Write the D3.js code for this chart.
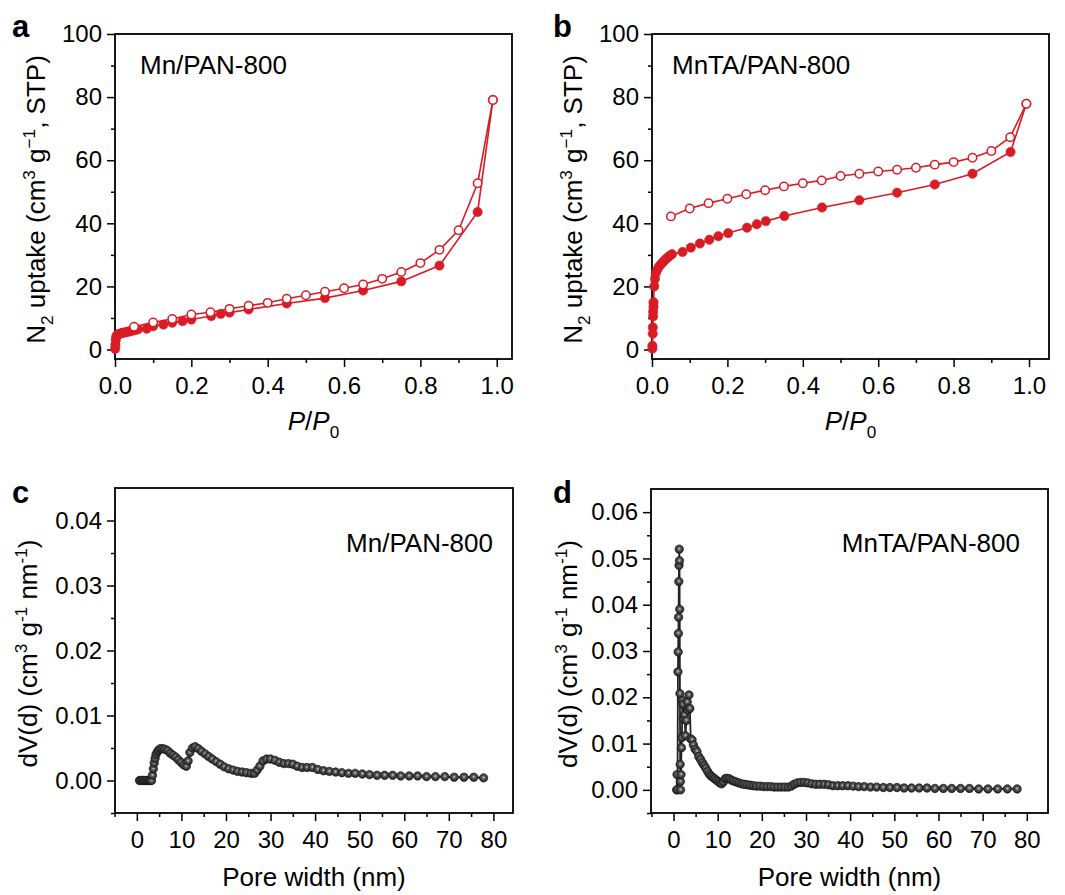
<!DOCTYPE html>
<html>
<head>
<meta charset="utf-8">
<script src="https://cdn.jsdelivr.net/npm/d3@7"></script>
<style>
  body { margin: 0; background: #fff; }
  svg { display: block; font-family: "Liberation Sans", Arial, sans-serif; }
  .tick text { font-family: "Liberation Sans", Arial, sans-serif; font-size: 24px; fill: #000; }
  .tick line { stroke: #000; stroke-width: 1.5; }
  text { white-space: pre; }
</style>
</head>
<body>
<svg id="fig" width="1065" height="895"></svg>
<script>
// ---- isotherm data (P/P0, cm3/g STP) ----
const aAdsP = [0.0005,0.001,0.002,0.003,0.005,0.008,0.012,0.016,0.02,0.025,0.03,0.035,0.04,0.045,0.05,0.055,0.06,0.083,0.1,0.127,0.15,0.177,0.2,0.252,0.277,0.30,0.35,0.45,0.55,0.65,0.75,0.85,0.95,0.99];
const aAdsV = [0.2,1.5,3.0,4.0,4.5,4.8,5.0,5.1,5.3,5.4,5.5,5.7,5.8,6.0,6.1,6.3,6.4,6.6,7.4,7.9,8.5,9.0,9.5,10.6,11.3,11.7,12.7,14.6,16.3,18.7,21.6,26.6,43.6,79.1];
const aDesP = [0.99,0.95,0.90,0.85,0.80,0.75,0.70,0.65,0.60,0.55,0.50,0.45,0.40,0.35,0.30,0.25,0.20,0.15,0.10,0.05];
const aDesV = [79.1,52.7,37.8,31.6,27.4,24.6,22.4,20.6,19.4,18.3,17.2,16.1,14.8,13.9,12.9,11.8,11.1,9.7,8.6,7.2];

const bAdsP = [0.001,0.001,0.002,0.002,0.003,0.003,0.004,0.004,0.006,0.008,0.01,0.014,0.018,0.023,0.028,0.033,0.038,0.043,0.048,0.053,0.081,0.103,0.127,0.152,0.176,0.202,0.252,0.278,0.302,0.351,0.451,0.55,0.65,0.75,0.85,0.951,0.993];
const bAdsV = [0.3,1.2,5.0,7.0,10.5,12.0,13.5,15.0,20.0,22.4,24.2,25.3,26.2,26.9,27.6,28.2,28.8,29.3,29.8,30.2,30.9,32.3,33.6,34.8,35.9,36.9,38.6,39.7,40.7,42.3,45.0,47.3,49.7,52.3,55.7,62.6,77.9];
const bDesP = [0.993,0.95,0.90,0.85,0.80,0.75,0.70,0.65,0.60,0.55,0.50,0.45,0.40,0.35,0.30,0.25,0.20,0.15,0.10,0.05];
const bDesV = [77.9,67.3,62.9,60.8,59.4,58.6,57.6,57.0,56.4,55.7,55.0,53.6,52.7,51.7,50.5,49.2,47.8,46.4,44.7,42.2];

// ---- pore size distributions (nm, cm3/g/nm) ----
const cW = [0.6,0.9,1.2,1.5,1.8,2.1,2.4,2.7,3.0,3.3,3.5,3.7,3.9,4.1,4.3,4.6,4.9,5.3,5.8,6.3,6.9,7.5,8.1,8.7,9.3,9.9,10.5,11.1,11.5,11.9,12.5,13.1,13.8,14.5,15.3,16.1,16.9,17.8,18.7,19.6,20.6,21.6,22.6,23.6,24.6,25.6,26.4,27.0,27.6,28.3,29.1,30.0,31.0,32.0,33.0,34.0,35.0,36.0,37.1,38.2,39.4,40.6,41.9,43.2,44.6,46.0,47.5,49.0,50.6,52.2,53.9,55.6,57.4,59.2,61.1,63.0,65.0,67.0,69.1,71.2,73.4,75.6,77.8];
const cV = [0,0,0,0,0,0,0,0,0,0,
  0.0008,0.0018,0.0027,0.0034,0.0040,0.0044,0.0047,0.0049,0.0049,0.0048,
  0.0046,0.0042,0.0039,0.0036,0.0032,0.0028,0.0024,0.0022,0.0030,0.0043,
  0.0050,0.0052,0.0049,0.0045,0.0041,0.0037,0.0033,0.0029,0.0025,0.0021,
  0.0018,0.0016,0.0014,0.0013,0.0012,0.0011,0.0011,0.0016,0.0022,0.0030,
  0.0033,0.0033,0.0031,0.0028,0.0026,0.0026,0.0025,0.0022,0.0020,0.0020,
  0.0020,0.0017,0.0015,0.0014,0.0013,0.0012,0.0011,0.0011,0.0010,0.0009,
  0.0008,0.0008,0.0008,0.0007,0.0007,0.0007,0.0006,0.0006,0.0006,0.0005,
  0.0005,0.0005,0.0004];

const dW = [0.70,0.80,0.90,1.00,1.05,1.10,1.15,1.20,1.25,1.30,1.35,1.40,1.45,1.50,1.55,1.60,1.70,1.80,1.90,2.00,2.15,2.30,2.50,2.70,2.90,3.10,3.30,3.50,3.70,3.90,4.20,4.50,4.90,5.30,5.70,6.10,6.50,6.90,7.30,7.70,8.10,8.50,8.90,9.30,9.70,10.1,10.5,10.9,11.3,11.7,12.1,12.6,13.1,13.6,14.2,14.8,15.4,16.0,16.7,17.4,18.1,18.8,19.6,20.4,21.2,22.0,22.8,23.6,24.4,25.2,26.0,26.7,27.3,28.0,28.8,29.6,30.4,31.3,32.2,33.1,34.1,35.1,36.1,37.2,38.3,39.5,40.7,41.9,43.2,44.6,46.0,47.5,49.0,50.6,52.2,53.9,55.6,57.4,59.2,61.1,63.0,65.0,67.0,69.1,71.2,73.4,75.6,77.8];
const dV = [0.0000,0.0033,0.0000,0.0255,0.0298,0.0338,0.0373,0.0450,0.0485,0.0520,
  0.0495,0.0390,0.0208,0.0055,0.0018,0.0000,0.0033,0.0091,0.0113,0.0193,
  0.0185,0.0153,0.0162,0.0117,0.0150,0.0190,0.0172,0.0205,0.0176,0.0110,
  0.0108,0.0097,0.0088,0.0083,0.0072,0.0066,0.0059,0.0053,0.0047,0.0040,
  0.0034,0.0030,0.0027,0.0024,0.0021,0.0018,0.0015,0.0013,0.0017,0.0024,
  0.0025,0.0024,0.0021,0.0019,0.0017,0.0015,0.0013,0.0012,0.0011,0.0010,
  0.0009,0.0008,0.0008,0.0007,0.0007,0.0007,0.0006,0.0006,0.0006,0.0006,
  0.0006,0.0008,0.0012,0.0015,0.0016,0.0016,0.0015,0.0013,0.0012,0.0012,
  0.0012,0.0011,0.0009,0.0009,0.0009,0.0009,0.0008,0.0007,0.0007,0.0006,
  0.0006,0.0005,0.0005,0.0005,0.0004,0.0004,0.0004,0.0004,0.0003,0.0003,
  0.0003,0.0003,0.0003,0.0002,0.0002,0.0002,0.0002,0.0002];

// ---- ticks ----
const isoXMajor = [0, 0.2, 0.4, 0.6, 0.8, 1.0];
const isoXMinor = [0.1, 0.3, 0.5, 0.7, 0.9];
const isoYMajor = [0, 20, 40, 60, 80, 100];
const isoYMinor = [10, 30, 50, 70, 90];
const psdXMajor = [0, 10, 20, 30, 40, 50, 60, 70, 80];
const psdXMinor = [-5, 5, 15, 25, 35, 45, 55, 65, 75];
const cYMajor = [0, 0.01, 0.02, 0.03, 0.04];
const cYMinor = [-0.005, 0.005, 0.015, 0.025, 0.035];
const dYMajor = [0, 0.01, 0.02, 0.03, 0.04, 0.05, 0.06];
const dYMinor = [-0.005, 0.005, 0.015, 0.025, 0.035, 0.045, 0.055];

const RED = "#d81c26";
const svg = d3.select("#fig");

// shaded ball for the PSD markers
const grad = svg.append("defs").append("radialGradient")
  .attr("id", "ball").attr("cx", "50%").attr("cy", "45%").attr("r", "55%");
grad.append("stop").attr("offset", "0%").attr("stop-color", "#d0d0d0");
grad.append("stop").attr("offset", "35%").attr("stop-color", "#5c5c5c");
grad.append("stop").attr("offset", "100%").attr("stop-color", "#1c1c1c");

// text with sub/superscripts: parts = [[text, "sub"|"sup"|null, italic]]
function rich(sel, parts, size) {
  let off = 0;
  parts.forEach(([t, kind, ital]) => {
    const target = kind === "sub" ? 0.3 * size : kind === "sup" ? -0.38 * size : 0;
    sel.append("tspan")
      .attr("dy", target - off)
      .attr("font-size", kind ? size * 0.66 : size)
      .attr("font-style", ital ? "italic" : null)
      .text(t);
    off = target;
  });
}

const isoYTitle = [["N"], ["2", "sub"], [" uptake (cm"], ["3", "sup"], [" g"], ["\u22121", "sup"], [", STP)"]];
const psdYTitle = [["dV(d) (cm"], ["3", "sup"], [" g"], ["-1", "sup"], [" nm"], ["-1", "sup"], [")"]];
const isoXTitle = [["P", null, true], ["/"], ["P", null, true], ["0", "sub"]];
const psdXTitle = [["Pore width (nm)"]];

const panels = [
  { letter: "a", box: { l: 115, t: 34, r: 512, b: 359 }, xd: [0, 1.04], yd: [-3, 100],
    xMaj: isoXMajor, xMin: isoXMinor, yMaj: isoYMajor, yMin: isoYMinor,
    xFmt: d3.format(".1f"), yFmt: d3.format("d"),
    xTitle: isoXTitle, yTitle: isoYTitle, yTitleX: 45, xTitleY: 430,
    label: "Mn/PAN-800", labelX: 140, labelY: 74, labelAnchor: "start",
    iso: [[aAdsP, aAdsV], [aDesP, aDesV]] },
  { letter: "b", box: { l: 652, t: 34, r: 1049, b: 359 }, xd: [0, 1.053], yd: [-3, 100],
    xMaj: isoXMajor, xMin: isoXMinor, yMaj: isoYMajor, yMin: isoYMinor,
    xFmt: d3.format(".1f"), yFmt: d3.format("d"),
    xTitle: isoXTitle, yTitle: isoYTitle, yTitleX: 582, xTitleY: 430,
    label: "MnTA/PAN-800", labelX: 672, labelY: 74, labelAnchor: "start",
    iso: [[bAdsP, bAdsV], [bDesP, bDesV]] },
  { letter: "c", box: { l: 115, t: 488, r: 513, b: 813 }, xd: [-4.9, 84.4], yd: [-0.005, 0.045],
    xMaj: psdXMajor, xMin: psdXMinor, yMaj: cYMajor, yMin: cYMinor,
    xFmt: d3.format("d"), yFmt: d3.format(".2f"),
    xTitle: psdXTitle, yTitle: psdYTitle, yTitleX: 37, xTitleY: 886,
    label: "Mn/PAN-800", labelX: 493, labelY: 552, labelAnchor: "end",
    psd: [cW, cV] },
  { letter: "d", box: { l: 651, t: 489, r: 1048, b: 813 }, xd: [-5.1, 84.8], yd: [-0.005, 0.065],
    xMaj: psdXMajor, xMin: psdXMinor, yMaj: dYMajor, yMin: dYMinor,
    xFmt: d3.format("d"), yFmt: d3.format(".2f"),
    xTitle: psdXTitle, yTitle: psdYTitle, yTitleX: 577, xTitleY: 886,
    label: "MnTA/PAN-800", labelX: 1020, labelY: 552, labelAnchor: "end",
    psd: [dW, dV] }
];

function drawPanel(p) {
  const g = svg.append("g");
  const { l, t, r, b } = p.box;
  const x = d3.scaleLinear().domain(p.xd).range([l, r]);
  const y = d3.scaleLinear().domain(p.yd).range([b, t]);
  const noDomain = s => s.select(".domain").remove();

  g.append("g").attr("transform", `translate(0,${b})`)
    .call(d3.axisBottom(x).tickValues(p.xMin).tickSize(4).tickFormat("")).call(noDomain);
  g.append("g").attr("transform", `translate(0,${b})`)
    .call(d3.axisBottom(x).tickValues(p.xMaj).tickSize(8).tickPadding(10).tickFormat(p.xFmt)).call(noDomain);
  g.append("g").attr("transform", `translate(${l},0)`)
    .call(d3.axisLeft(y).tickValues(p.yMin).tickSize(4).tickFormat("")).call(noDomain);
  g.append("g").attr("transform", `translate(${l},0)`)
    .call(d3.axisLeft(y).tickValues(p.yMaj).tickSize(8).tickPadding(5).tickFormat(p.yFmt)).call(noDomain);

  g.append("rect").attr("x", l).attr("y", t).attr("width", r - l).attr("height", b - t)
    .attr("fill", "none").attr("stroke", "#000").attr("stroke-width", 1.8);

  const line = d3.line().x(d => x(d[0])).y(d => y(d[1]));

  if (p.iso) {
    p.iso.forEach(([xs, ys], i) => {
      const pts = d3.zip(xs, ys);
      g.append("path").datum(pts).attr("d", line)
        .attr("fill", "none").attr("stroke", RED).attr("stroke-width", 1.6);
      g.append("g").selectAll("circle").data(pts).join("circle")
        .attr("cx", d => x(d[0])).attr("cy", d => y(d[1]))
        .attr("r", i === 0 ? 4.7 : 4.2)
        .attr("fill", i === 0 ? RED : "#fff")
        .attr("stroke", RED).attr("stroke-width", i === 0 ? 0.5 : 1.5);
    });
  }
  if (p.psd) {
    const pts = d3.zip(p.psd[0], p.psd[1]);
    g.append("path").datum(pts).attr("d", line)
      .attr("fill", "none").attr("stroke", "#222").attr("stroke-width", 1.8);
    g.append("g").selectAll("circle").data(pts).join("circle")
      .attr("cx", d => x(d[0])).attr("cy", d => y(d[1])).attr("r", 4.2)
      .attr("fill", "url(#ball)").attr("stroke", "#1a1a1a").attr("stroke-width", 0.7);
  }

  // panel letter
  g.append("text").attr("x", p.letter === "a" || p.letter === "c" ? 12 : 553)
    .attr("y", p.letter === "a" || p.letter === "b" ? 37 : 503)
    .attr("font-size", 31).attr("font-weight", "bold").text(p.letter);

  // sample label
  g.append("text").attr("x", p.labelX).attr("y", p.labelY)
    .attr("text-anchor", p.labelAnchor).attr("font-size", 26).text(p.label);

  // axis titles
  rich(g.append("text").attr("x", (l + r) / 2).attr("y", p.xTitleY)
    .attr("text-anchor", "middle"), p.xTitle, 26);
  rich(g.append("text").attr("text-anchor", "middle")
    .attr("transform", `translate(${p.yTitleX},${(t + b) / 2 + 3}) rotate(-90)`), p.yTitle, 26);
}

panels.forEach(drawPanel);
</script>
</body>
</html>
